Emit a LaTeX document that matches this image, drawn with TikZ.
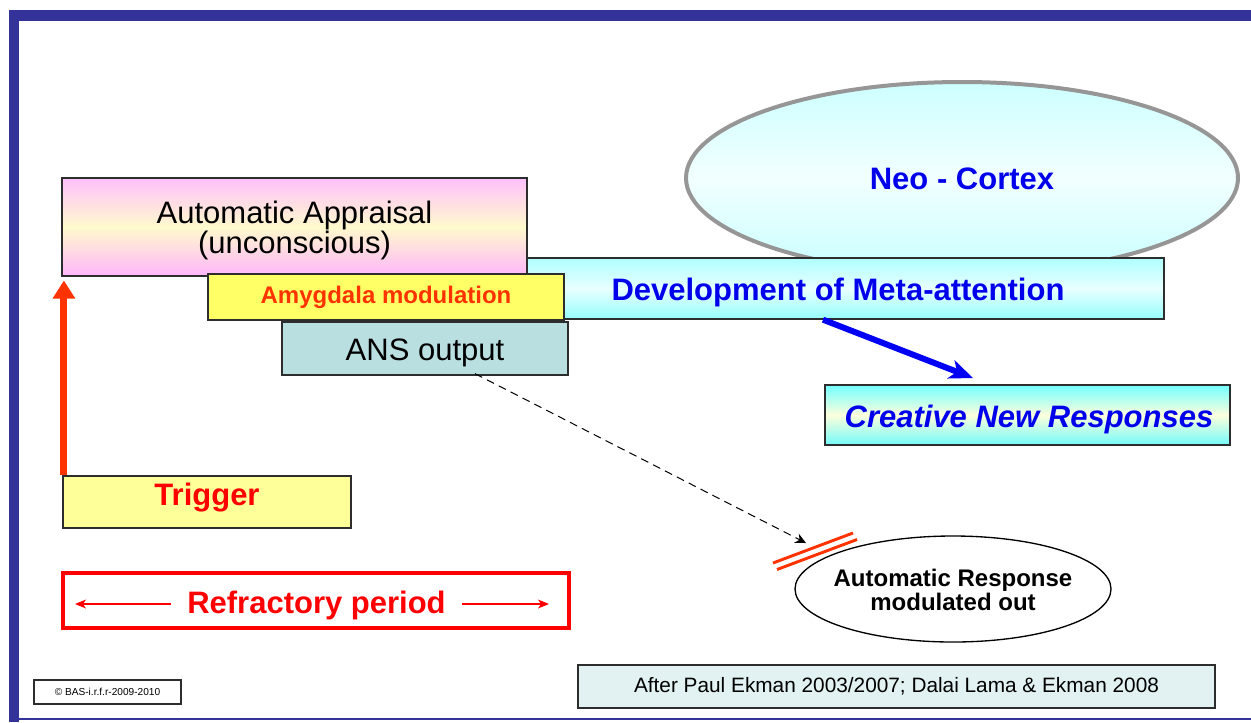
\documentclass[tikz,border=0pt]{standalone}
\usepackage{fontspec}
\setmainfont{Liberation Sans}

\tikzset{every picture/.style={line width=0.75pt}}
\tikzset{
  wh/.style 2 args={minimum width=#1*0.75pt, minimum height=#2*0.75pt},
  box/.style={draw={rgb, 255:red, 45; green, 45; blue, 45 }, line width=1pt, inner sep=0pt, align=center},
  fbig/.style={font=\fontsize{23.25}{22.5}\selectfont},
  fbold/.style={font=\bfseries\fontsize{23.25}{22.5}\selectfont},
  fbolditalic/.style={font=\bfseries\itshape\fontsize{23.25}{22.5}\selectfont},
  fmid/.style={font=\bfseries\fontsize{18}{16.5}\selectfont},
}

\begin{document}
\begin{tikzpicture}[x=0.75pt,y=0.75pt,yscale=-1,xscale=1]
	\useasboundingbox (0,0) rectangle (1251,722);

	%Shape: Rectangle [frame]
	\fill [fill={rgb, 255:red, 51; green, 51; blue, 153 }] (9,10) rectangle (1251,20.5) ;
	\fill [fill={rgb, 255:red, 51; green, 51; blue, 153 }] (9,10) rectangle (19,722) ;
	\draw [color={rgb, 255:red, 51; green, 51; blue, 153 }, line width=1.5] (19,719) -- (1251,719) ;

	%Shape: Ellipse [neo cortex]
	\draw [color={rgb, 255:red, 150; green, 150; blue, 150 }, line width=3, top color={rgb, 255:red, 205; green, 255; blue, 255 }, bottom color={rgb, 255:red, 200; green, 255; blue, 255 }, middle color={rgb, 255:red, 242; green, 255; blue, 255 }] (962,178) ellipse [x radius=276, y radius=96] ;
	% Text Node
	\node [color={rgb, 255:red, 0; green, 0; blue, 235 }, fbold] (neo) at (962,179) {Neo - Cortex};

	%Shape: Rectangle [meta]
	\node [box, wh={652}{61}, top color={rgb, 255:red, 175; green, 255; blue, 255 }, bottom color={rgb, 255:red, 150; green, 252; blue, 252 }, middle color={rgb, 255:red, 232; green, 255; blue, 255 }] (meta) at (838,288.5) {};
	% Text Node
	\node [color={rgb, 255:red, 0; green, 0; blue, 235 }, fbold] (metatext) at (838,292.5) {Development of Meta-attention};

	%Shape: Rectangle [appraisal]
	\node [box, wh={465}{98}, top color={rgb, 255:red, 255; green, 192; blue, 252 }, bottom color={rgb, 255:red, 255; green, 182; blue, 250 }, middle color={rgb, 255:red, 255; green, 250; blue, 205 }] (appraisal) at (294.5,227) {};
	% Text Node
	\node [fbig, align=center] (apptext) at (294.5,230.5) {Automatic Appraisal\\(unconscious)};

	%Shape: Rectangle [amygdala]
	\node [box, wh={356}{46}, fill={rgb, 255:red, 255; green, 255; blue, 102 }, text={rgb, 255:red, 255; green, 51; blue, 0 }, fmid] (amyg) at (386,297) {Amygdala modulation};

	%Shape: Rectangle [ans]
	\node [box, wh={286}{53}, fill={rgb, 255:red, 186; green, 223; blue, 225 }] (ans) at (425,348.5) {};
	% Text Node
	\node [fbig] (anstext) at (425,353) {ANS output};

	%Shape: Rectangle [creative]
	\node [box, wh={405}{60}, top color={rgb, 255:red, 115; green, 255; blue, 255 }, bottom color={rgb, 255:red, 115; green, 250; blue, 250 }, middle color={rgb, 255:red, 252; green, 255; blue, 220 }] (creative) at (1027.5,415) {};
	% Text Node
	\node [color={rgb, 255:red, 0; green, 0; blue, 235 }, fbolditalic] (cretext) at (1029,419) {Creative New Responses};

	%Shape: Rectangle [trigger]
	\node [box, wh={288}{52}, fill={rgb, 255:red, 255; green, 255; blue, 153 }] (trigger) at (207,502) {};
	% Text Node
	\node [color={rgb, 255:red, 255; green, 0; blue, 0 }, fbold] (trigtext) at (207,498) {Trigger};

	%Shape: Rectangle [refractory]
	\node [draw={rgb, 255:red, 255; green, 0; blue, 0 }, line width=2.6, wh={506}{55}] (refrbox) at (316,600.5) {};
	% Text Node
	\node [color={rgb, 255:red, 255; green, 0; blue, 0 }, fbold, inner xsep=12pt] (refr) at (316.5,605) {Refractory period};

	%Shape: Ellipse [response]
	\draw [color={rgb, 255:red, 0; green, 0; blue, 0 }, line width=1, fill=white] (953,589) ellipse [x radius=158, y radius=53] ;
	% Text Node
	\node [fmid, align=center] (resp) at (953,590) {Automatic Response\\modulated out};

	%Shape: Rectangle [citation]
	\node [box, wh={637}{43}, fill={rgb, 255:red, 226; green, 242; blue, 242 }, font=\fontsize{15.6}{18}\selectfont] (cite) at (896.5,686.5) {After Paul Ekman 2003/2007; Dalai Lama \& Ekman 2008};

	%Shape: Rectangle [copyright]
	\node [box, wh={147}{24}, fill=white, font=\fontsize{7.6}{9}\selectfont] (copy) at (107.5,692) {\textcopyright{} BAS-i.r.f.r-2009-2010};

	% Coordinates for connectors
	\coordinate (rtail) at ([xshift=1.2pt]trigger.north west);
	\coordinate (rtip) at ([yshift=3pt]rtail |- appraisal.south);
	\coordinate (ctip) at (973,378);
	\coordinate (cut) at (806,543);
	\coordinate (refrL) at (75,604);
	\coordinate (refrR) at (549,604);

	%Straight Lines [trigger to appraisal]
	\draw [color={rgb, 255:red, 255; green, 51; blue, 0 }, line width=5.25, shorten >=12pt] (rtail) -- (rtip) ;
	\draw [shift={(rtip)}, rotate=90] [fill={rgb, 255:red, 255; green, 51; blue, 0 }][line width=0.08] [draw opacity=0] (18,-11.5) -- (0,0) -- (18,11.5) -- cycle ;
	%Straight Lines [meta to creative]
	\draw [color={rgb, 255:red, 0; green, 0; blue, 245 }, line width=4.5, shorten >=11pt] ([xshift=-11.25pt]meta.south) -- (ctip) ;
	\draw [shift={(ctip)}, rotate=201.47] [fill={rgb, 255:red, 0; green, 0; blue, 245 }][line width=0.08] [draw opacity=0] (24,-10) -- (0,0) -- (24,10) -- (17,0) -- cycle ;
	%Straight Lines [ans to response]
	\draw [dash pattern={on 6pt off 4pt}, shorten >=5pt] ([xshift=37.5pt,yshift=-1.5pt]ans.south) -- (cut) ;
	\draw [shift={(cut)}, rotate=206.64] [fill={rgb, 255:red, 0; green, 0; blue, 0 }][line width=0.08] [draw opacity=0] (10.72,-5.15) -- (0,0) -- (10.72,5.15) -- (7.12,0) -- cycle ;
	%Straight Lines [block bars]
	\draw [color={rgb, 255:red, 255; green, 51; blue, 0 }, line width=2.2] (773,563) -- (853,533) ;
	\draw [color={rgb, 255:red, 255; green, 51; blue, 0 }, line width=2.2] (777,569.5) -- (857,539.5) ;
	%Straight Lines [refractory arrows]
	\draw [color={rgb, 255:red, 255; green, 0; blue, 0 }, line width=1.5, shorten >=6pt] (refr.west |- refrL) -- (refrL) ;
	\draw [shift={(refrL)}, rotate=0] [fill={rgb, 255:red, 255; green, 0; blue, 0 }][line width=0.08] [draw opacity=0] (11,-4.5) -- (0,0) -- (11,4.5) -- (8,0) -- cycle ;
	\draw [color={rgb, 255:red, 255; green, 0; blue, 0 }, line width=1.5, shorten >=6pt] (refr.east |- refrR) -- (refrR) ;
	\draw [shift={(refrR)}, rotate=180] [fill={rgb, 255:red, 255; green, 0; blue, 0 }][line width=0.08] [draw opacity=0] (11,-4.5) -- (0,0) -- (11,4.5) -- (8,0) -- cycle ;

\end{tikzpicture}
\end{document}
